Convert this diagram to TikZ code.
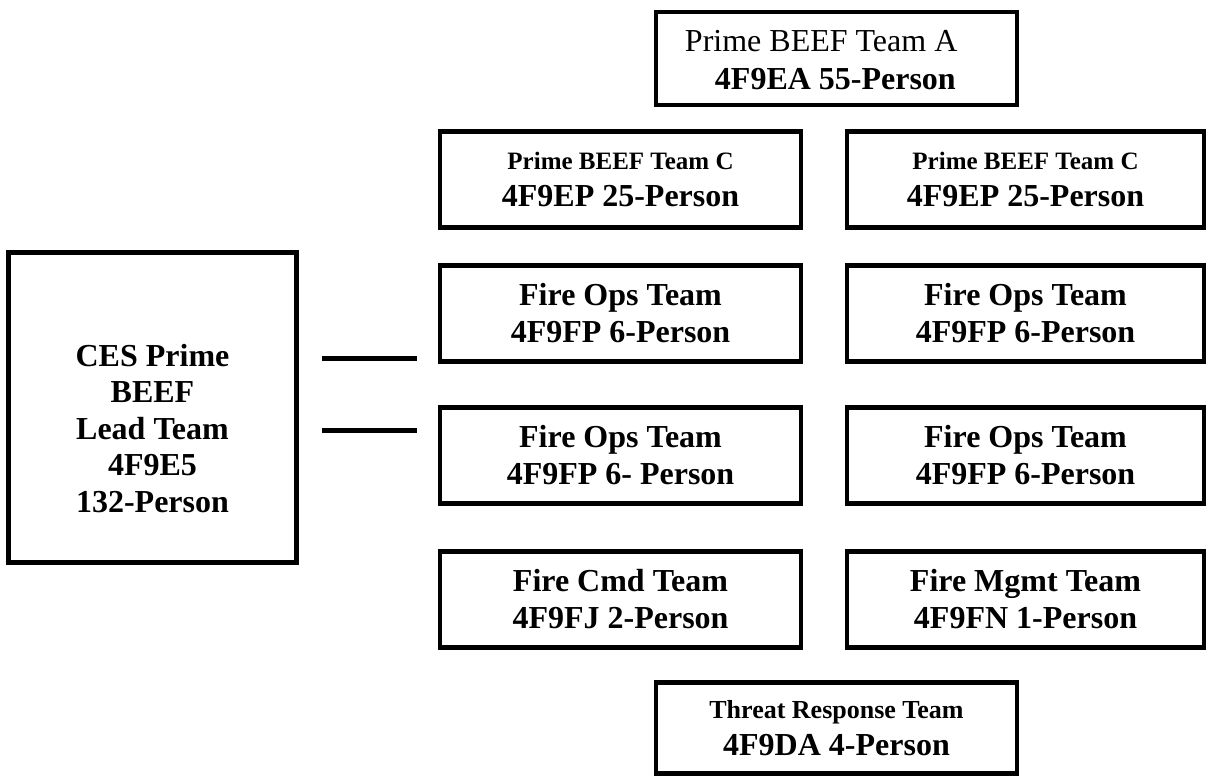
\documentclass[tikz,border=0pt]{standalone}
\usepackage{fontspec}
\setmainfont{Liberation Serif}
\begin{document}
\begin{tikzpicture}[x=1pt,y=-1pt,
  box/.style={draw=black, line width=4.5pt, rectangle, align=center, inner sep=2pt,
    font=\fontsize{32}{37}\selectfont\bfseries},
  plaintext/.style={align=center, inner sep=0pt, font=\fontsize{32}{36.5}\selectfont\bfseries},
  lefttext/.style={inner sep=0pt, anchor=west, font=\fontsize{32}{38}\selectfont},
  link/.style={draw=black, line width=5pt}]
\useasboundingbox (0,0) rectangle (1207,776);
\newcommand{\sm}[1]{{\fontsize{25}{37}\selectfont #1}}
% top box
\node[box, minimum width=361pt, minimum height=93pt] (teamA) at (836.5,58.5) {};
\node[lefttext] (teamAtext) at ([xshift=31pt,yshift=-4pt]teamA.west)
  {\begin{tabular}{@{}l@{}}Prime BEEF Team A\\ \hspace*{30pt}\textbf{4F9EA 55-Person}\end{tabular}};
% row 2
\node[box, minimum width=361pt, minimum height=96pt] (c1) at (620.5,179.5)
  {\sm{Prime BEEF Team C}\\4F9EP 25-Person};
\node[box, minimum width=357pt, minimum height=96pt] (c2) at (1025.5,179.5)
  {\sm{Prime BEEF Team C}\\4F9EP 25-Person};
% row 3
\node[box, minimum width=361pt, minimum height=96pt] (f1) at (620.5,313.5)
  {Fire Ops Team\\4F9FP 6-Person};
\node[box, minimum width=357pt, minimum height=96pt] (f2) at (1025.5,313.5)
  {Fire Ops Team\\4F9FP 6-Person};
% row 4
\node[box, minimum width=361pt, minimum height=96pt] (f3) at (620.5,455.5)
  {Fire Ops Team\\4F9FP 6- Person};
\node[box, minimum width=357pt, minimum height=96pt] (f4) at (1025.5,455.5)
  {Fire Ops Team\\4F9FP 6-Person};
% row 5
\node[box, minimum width=361pt, minimum height=96pt] (cmd) at (620.5,599.5)
  {Fire Cmd Team\\4F9FJ 2-Person};
\node[box, minimum width=357pt, minimum height=96pt] (mgmt) at (1025.5,599.5)
  {Fire Mgmt Team\\4F9FN 1-Person};
% threat
\node[box, minimum width=361pt, minimum height=91pt] (threat) at (836.5,728)
  {{\fontsize{26}{37}\selectfont Threat Response Team}\\4F9DA 4-Person};
% lead
\node[box, minimum width=288pt, minimum height=310pt] (lead) at (152.5,407.5) {};
\node[plaintext] (leadtext) at ([yshift=-21pt]lead.center)
  {CES Prime\\BEEF\\Lead Team\\4F9E5\\132-Person};
% connectors
\coordinate (a1) at (322,358);
\coordinate (a2) at (417,358);
\coordinate (b1) at (322,430);
\coordinate (b2) at (417,430);
\draw[link] (a1) -- (a2);
\draw[link] (b1) -- (b2);
\end{tikzpicture}
\end{document}
